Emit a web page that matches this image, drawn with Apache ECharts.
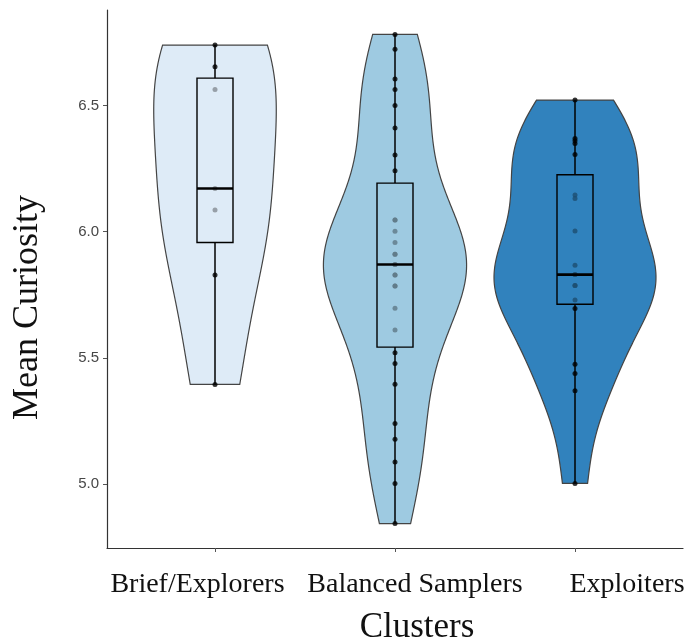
<!DOCTYPE html>
<html>
<head>
<meta charset="utf-8">
<script src="https://cdn.jsdelivr.net/npm/echarts@6/dist/echarts.min.js"></script>
<style>
html,body{margin:0;padding:0;background:#fff;}
#chart{width:690px;height:644px;}
</style>
</head>
<body>
<div id="chart"></div>
<script>
// ---- data ----
const categories = ['Brief/Explorers', 'Balanced Samplers', 'Exploiters'];
const briefExplorers = [5.395, 5.828, 6.086, 6.171, 6.563, 6.653, 6.739];
const balancedSamplers = [
  4.844, 5.003, 5.088, 5.178, 5.240, 5.396, 5.478, 5.520,
  5.611, 5.697, 5.785, 5.785, 5.828, 5.828, 5.870, 5.870, 5.911, 5.911, 5.957, 6.002, 6.046, 6.046,
  6.241, 6.304, 6.411, 6.500, 6.563, 6.605, 6.722, 6.781
];
const exploiters = [
  5.003, 5.370, 5.438, 5.475, 5.696,
  5.729, 5.787, 5.787, 5.830, 5.830, 5.867, 6.003, 6.131, 6.145,
  6.306, 6.349, 6.360, 6.369, 6.521
];
const yTicks = [5.0, 5.5, 6.0, 6.5];
const groups = [briefExplorers, balancedSamplers, exploiters];

// ---- styles ----
const fills = ['#DEEBF7', '#9ECAE1', '#3182BD'];
const labelOffsets = [-17.5, 20, 52];

// ---- stats ----
function quantile(sorted, p) {
  const h = (sorted.length - 1) * p;
  const lo = Math.floor(h), hi = Math.ceil(h);
  return sorted[lo] + (h - lo) * (sorted[hi] - sorted[lo]);
}
function sd(a) {
  const m = a.reduce((s, v) => s + v, 0) / a.length;
  return Math.sqrt(a.reduce((s, v) => s + (v - m) * (v - m), 0) / (a.length - 1));
}
function bwNrd0(a) {
  const s = a.slice().sort((x, y) => x - y);
  const iqr = quantile(s, 0.75) - quantile(s, 0.25);
  const lo = Math.min(sd(a), iqr / 1.34);
  return 0.9 * lo * Math.pow(a.length, -0.2);
}
function kde(a, n) {
  const bw = bwNrd0(a);
  const mn = Math.min(...a), mx = Math.max(...a);
  const pts = [];
  for (let i = 0; i < n; i++) {
    const y = mn + (mx - mn) * i / (n - 1);
    let d = 0;
    for (const v of a) { const z = (y - v) / bw; d += Math.exp(-0.5 * z * z); }
    d /= (a.length * bw * Math.sqrt(2 * Math.PI));
    pts.push([y, d]);
  }
  return pts;
}
const stats = groups.map(g => {
  const s = g.slice().sort((x, y) => x - y);
  return { min: s[0], q1: quantile(s, 0.25), med: quantile(s, 0.5), q3: quantile(s, 0.75), max: s[s.length - 1] };
});
const dens = groups.map(g => kde(g, 256));
const maxD = Math.max(...dens.map(d => Math.max(...d.map(p => p[1]))));

const all = groups.flat();
const dMin = Math.min(...all), dMax = Math.max(...all);
const yMin = dMin - 0.05 * (dMax - dMin);
const yMax = dMax + 0.05 * (dMax - dMin);

const scatterData = [];
groups.forEach((g, i) => g.forEach(v => scatterData.push([i + 1, v])));

const chart = echarts.init(document.getElementById('chart'), null, { renderer: 'canvas' });
const option = {
  backgroundColor: '#ffffff',
  animation: false,
  grid: { left: 107, right: 7, top: 10, bottom: 96 },
  xAxis: {
    type: 'value', min: 0.4, max: 3.6,
    splitLine: { show: false },
    axisLine: { show: true, lineStyle: { color: '#333', width: 1.2 } },
    axisTick: { show: true, customValues: [1, 2, 3], length: 4, lineStyle: { color: '#555' } },
    axisLabel: { show: false }
  },
  yAxis: {
    type: 'value', min: yMin, max: yMax,
    splitLine: { show: false },
    axisLine: { show: true, lineStyle: { color: '#333', width: 1.2 } },
    axisTick: { show: true, customValues: yTicks, length: 4, lineStyle: { color: '#555' } },
    axisLabel: { customValues: yTicks, formatter: v => v.toFixed(1), fontSize: 15,
      fontFamily: 'Liberation Sans, Arial, sans-serif', color: '#474747', margin: 8 }
  },
  series: [
    {
      type: 'custom', z: 1,
      data: [0, 1, 2],
      renderItem: function (params, api) {
        const i = api.value(0);
        const d = dens[i];
        const left = [], right = [];
        d.forEach(p => {
          const w = p[1] / maxD * 0.45;
          left.push(api.coord([i + 1 - w, p[0]]));
          right.push(api.coord([i + 1 + w, p[0]]));
        });
        const pts = left.concat(right.reverse());
        return { type: 'polygon', shape: { points: pts },
          style: { fill: fills[i], stroke: '#444', lineWidth: 1.2 } };
      }
    },
    {
      type: 'custom', z: 2,
      data: [0, 1, 2],
      renderItem: function (params, api) {
        const i = api.value(0), s = stats[i];
        const a = api.coord([i + 1, s.max]), b = api.coord([i + 1, s.q3]);
        const c = api.coord([i + 1, s.q1]), e = api.coord([i + 1, s.min]);
        return { type: 'group', children: [
          { type: 'line', shape: { x1: a[0], y1: a[1], x2: b[0], y2: b[1] }, style: { stroke: '#000', lineWidth: 1.5 } },
          { type: 'line', shape: { x1: c[0], y1: c[1], x2: e[0], y2: e[1] }, style: { stroke: '#000', lineWidth: 1.5 } }
        ] };
      }
    },
    {
      type: 'scatter', z: 3,
      data: scatterData, symbolSize: 5,
      itemStyle: { color: '#000' }
    },
    {
      type: 'custom', z: 4,
      data: [0, 1, 2],
      renderItem: function (params, api) {
        const i = api.value(0), s = stats[i];
        const tl = api.coord([i + 1 - 0.1, s.q3]), br = api.coord([i + 1 + 0.1, s.q1]);
        const ml = api.coord([i + 1 - 0.1, s.med]), mr = api.coord([i + 1 + 0.1, s.med]);
        return { type: 'group', children: [
          { type: 'rect', shape: { x: tl[0], y: tl[1], width: br[0] - tl[0], height: br[1] - tl[1] },
            style: { fill: echarts.color.modifyAlpha(fills[i], 0.6), stroke: '#000', lineWidth: 1.4 } },
          { type: 'line', shape: { x1: ml[0], y1: ml[1], x2: mr[0], y2: mr[1] }, style: { stroke: '#000', lineWidth: 2.6 } }
        ] };
      }
    }
  ]
};
chart.setOption(option);

// text labels placed from the axis scale
const graphics = [];
categories.forEach((name, i) => {
  const p = chart.convertToPixel({ gridIndex: 0 }, [i + 1, yMin]);
  graphics.push({ type: 'text', x: p[0] + labelOffsets[i], y: p[1] + 37,
    style: { text: name, fill: '#111', font: '28px "Liberation Serif", "Times New Roman", serif',
      textAlign: 'center', textVerticalAlign: 'middle' } });
});
const mid = chart.convertToPixel({ gridIndex: 0 }, [2, yMin]);
graphics.push({ type: 'text', x: mid[0] + 22, y: mid[1] + 80,
  style: { text: 'Clusters', fill: '#111', font: '35px "Liberation Serif", "Times New Roman", serif',
    textAlign: 'center', textVerticalAlign: 'middle' } });
const ymid = chart.convertToPixel({ gridIndex: 0 }, [0.4, 5.7]);
graphics.push({ type: 'text', x: 28, y: ymid[1], rotation: Math.PI / 2,
  style: { text: 'Mean Curiosity', fill: '#111', font: '36px "Liberation Serif", "Times New Roman", serif',
    textAlign: 'center', textVerticalAlign: 'middle' } });
chart.setOption({ graphic: graphics });
</script>
</body>
</html>
